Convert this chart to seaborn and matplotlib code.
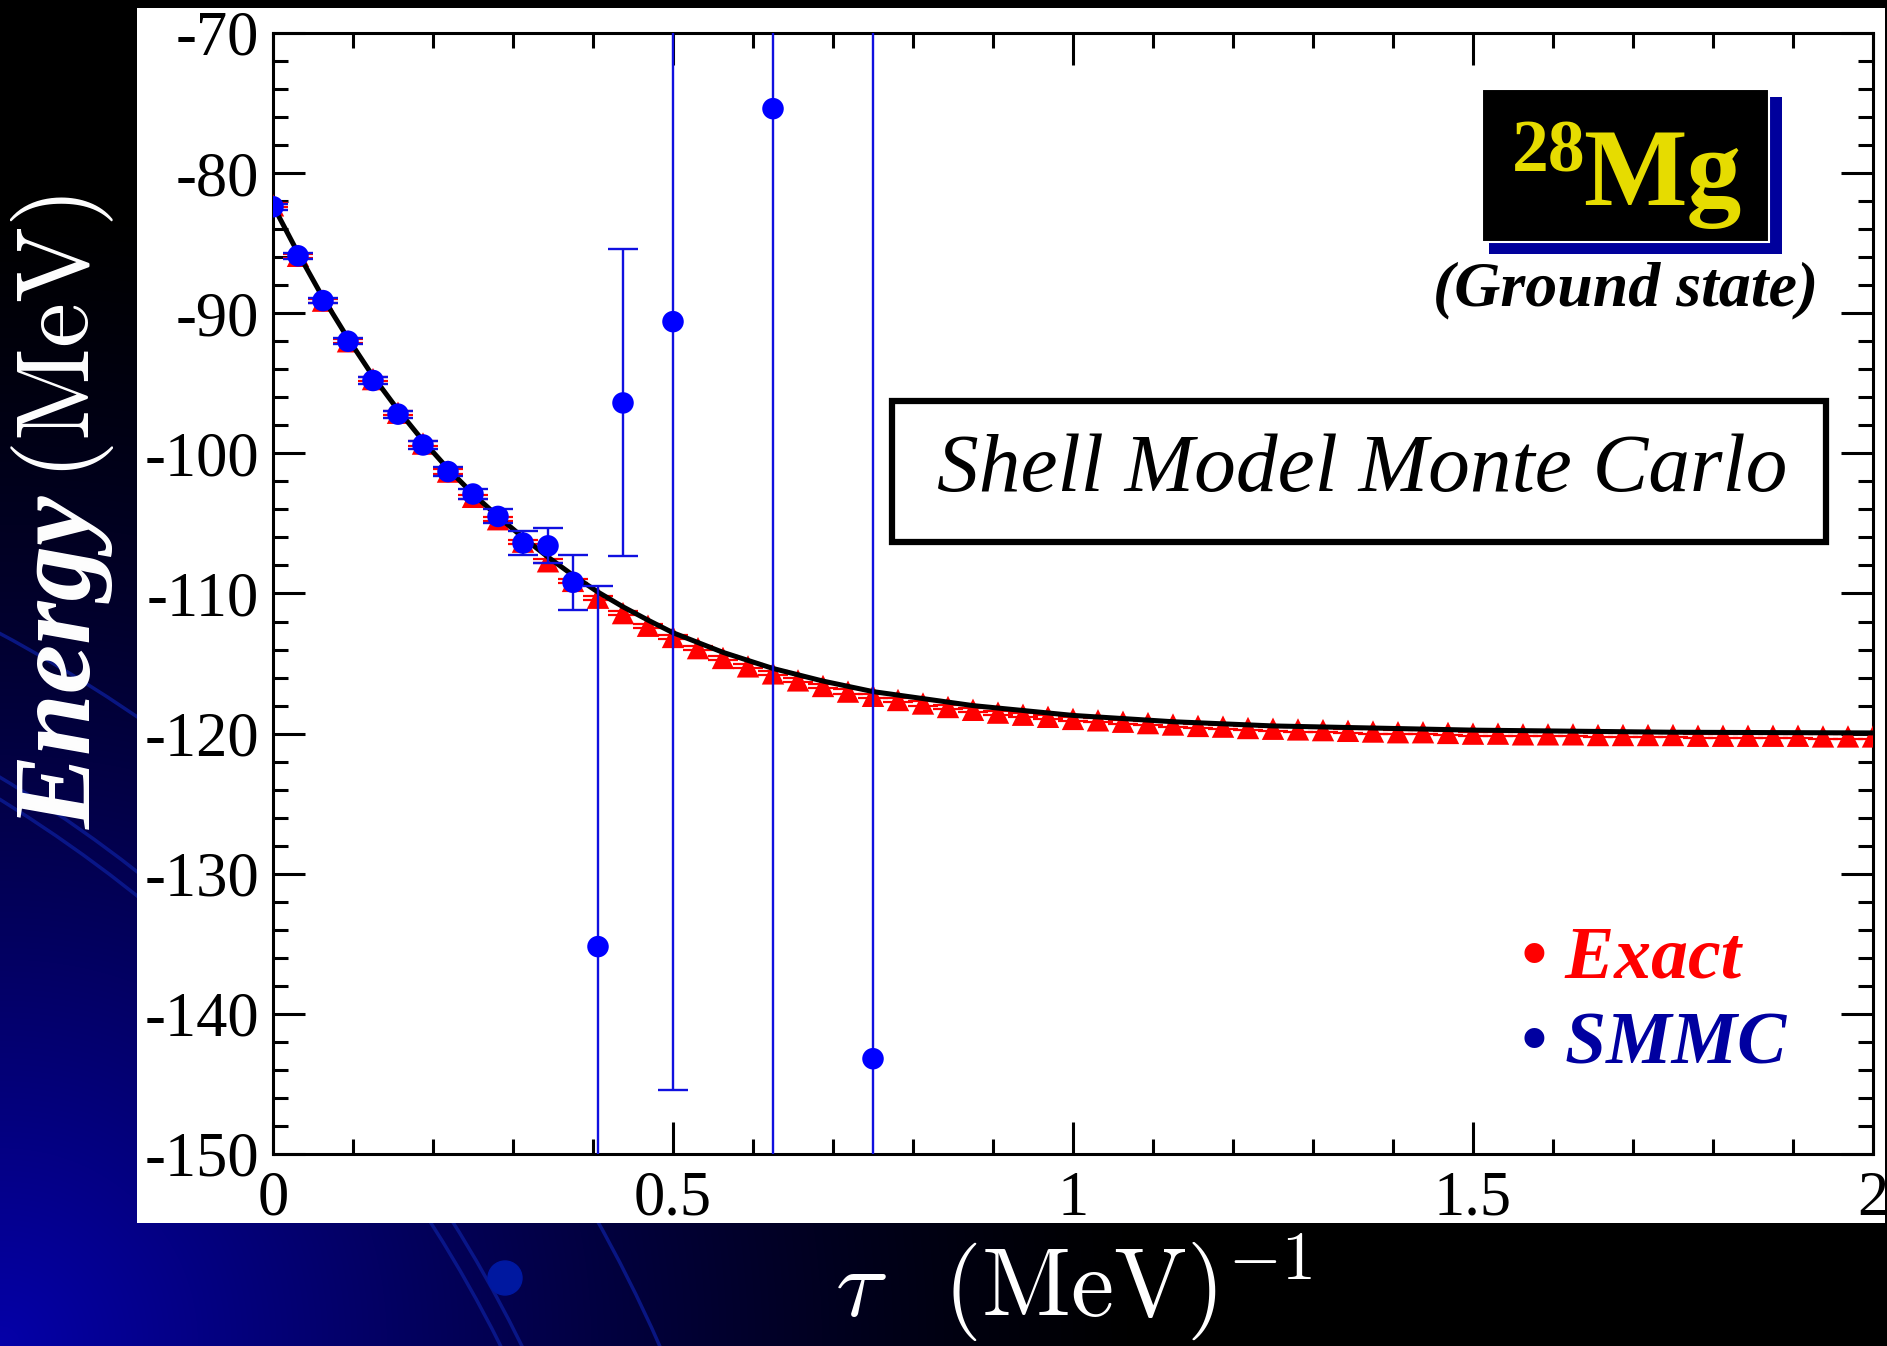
import numpy as np
import pandas as pd
import matplotlib
matplotlib.use("Agg")
import matplotlib.pyplot as plt
import seaborn as sns
from matplotlib.patches import Rectangle, Circle
from matplotlib.ticker import MultipleLocator, FuncFormatter

# --- data ---
# exact (red triangles), tau step 1/32 MeV^-1
exact_tau = [0.0, 0.03125, 0.0625, 0.09375, 0.125, 0.15625, 0.1875, 0.21875,
             0.25, 0.28125, 0.3125, 0.34375, 0.375, 0.40625, 0.4375, 0.46875,
             0.5, 0.53125, 0.5625, 0.59375, 0.625, 0.65625, 0.6875, 0.71875,
             0.75, 0.78125, 0.8125, 0.84375, 0.875, 0.90625, 0.9375, 0.96875,
             1.0, 1.03125, 1.0625, 1.09375, 1.125, 1.15625, 1.1875, 1.21875,
             1.25, 1.28125, 1.3125, 1.34375, 1.375, 1.40625, 1.4375, 1.46875,
             1.5, 1.53125, 1.5625, 1.59375, 1.625, 1.65625, 1.6875, 1.71875,
             1.75, 1.78125, 1.8125, 1.84375, 1.875, 1.90625, 1.9375, 1.96875, 2.0]
exact_energy = [-82.3, -85.9, -89.1, -92.0, -94.7, -97.1, -99.3, -101.3,
                -103.1, -104.7, -106.3, -107.7, -109.1, -110.3, -111.4, -112.3,
                -113.1, -113.9, -114.6, -115.2, -115.7, -116.2, -116.6, -117.0,
                -117.3, -117.6, -117.85, -118.1, -118.3, -118.5, -118.65, -118.8,
                -118.95, -119.05, -119.15, -119.25, -119.35, -119.45, -119.5, -119.6,
                -119.65, -119.7, -119.75, -119.8, -119.85, -119.9, -119.9, -119.95,
                -120.0, -120.0, -120.05, -120.05, -120.05, -120.1, -120.1, -120.1,
                -120.1, -120.15, -120.15, -120.15, -120.15, -120.15, -120.2, -120.2, -120.2]
exact_err = 0.15

# SMMC (blue circles)
smmc_tau = [0.0, 0.03125, 0.0625, 0.09375, 0.125, 0.15625, 0.1875, 0.21875,
            0.25, 0.28125, 0.3125, 0.34375, 0.375, 0.40625, 0.4375, 0.5, 0.625, 0.75]
smmc_energy = [-82.4, -85.9, -89.1, -92.0, -94.8, -97.2, -99.4, -101.3,
               -102.9, -104.5, -106.4, -106.6, -109.2, -135.2, -96.4, -90.6, -75.4, -143.2]
smmc_err = [0.2, 0.2, 0.2, 0.2, 0.25, 0.25, 0.3, 0.3,
            0.35, 0.5, 0.85, 1.25, 1.95, 25.7, 10.95, 54.8, 90.0, 90.0]

# smooth black curve
curve_tau = [0.0, 0.03125, 0.0625, 0.09375, 0.125, 0.15625, 0.1875, 0.21875,
             0.25, 0.28125, 0.3125, 0.34375, 0.375, 0.40625, 0.4375, 0.46875,
             0.5, 0.5625, 0.625, 0.6875, 0.75, 0.875, 1.0, 1.125, 1.25, 1.5, 1.75, 2.0]
curve_energy = [-82.3, -85.7, -88.9, -91.8, -94.5, -96.9, -99.1, -101.1,
                -102.9, -104.5, -106.0, -107.4, -108.7, -109.9, -110.95, -111.9,
                -112.8, -114.2, -115.35, -116.25, -117.0, -118.0, -118.7, -119.15,
                -119.45, -119.75, -119.9, -119.95]

x_ticks = [0, 0.5, 1, 1.5, 2]
y_ticks = [-150, -140, -130, -120, -110, -100, -90, -80, -70]

exact_df = pd.DataFrame({"tau": exact_tau, "energy": exact_energy})
smmc_df = pd.DataFrame({"tau": smmc_tau, "energy": smmc_energy, "err": smmc_err})
curve_df = pd.DataFrame({"tau": curve_tau, "energy": curve_energy})

sns.set_theme(style="ticks")
plt.rcParams['font.family'] = ['Liberation Serif', 'DejaVu Serif']
plt.rcParams['mathtext.fontset'] = 'cm'
plt.rcParams['axes.unicode_minus'] = False

W, H = 1887, 1346
fig = plt.figure(figsize=(W / 100, H / 100), dpi=100, facecolor='black')

# slide background: black with blue glow from the lower left
bg = fig.add_axes([0, 0, 1, 1], zorder=0)
bg.set_xlim(0, W)
bg.set_ylim(H, 0)
bg.axis('off')
gx, gy = np.meshgrid(np.linspace(0, W, 400), np.linspace(0, H, 300))
dist = np.hypot(gx, H - gy)
glow = np.clip(1 - dist / 1150, 0, 1) ** 1.3
img = np.zeros(gx.shape + (3,))
img[..., 2] = 0.66 * glow
img[..., 0] = 0.02 * glow
bg.imshow(img, extent=[0, W, H, 0], aspect='auto', interpolation='bilinear')
# faint globe arcs around the lower-left corner
for r in [1349, 1368, 1493]:
    bg.add_patch(Circle((-706, 1949), r, fill=False, edgecolor='#0c1c96', lw=2.5, alpha=0.8))
bg.add_patch(Circle((505, 1278), 17, color='#0018a0'))
# white plot panel
bg.add_patch(Rectangle((137, 8), 1748, 1215, facecolor='white', edgecolor='none', zorder=5))

# main axes
ax = fig.add_axes([273 / W, 1 - 1154 / H, 1600 / W, 1121 / H], zorder=2)
ax.patch.set_alpha(0)

ax.errorbar(exact_df["tau"], exact_df["energy"], yerr=exact_err, fmt='none',
            ecolor='red', elinewidth=1.6, capsize=11, capthick=1.6, zorder=2)
sns.scatterplot(data=exact_df, x="tau", y="energy", marker='^', s=260,
                color='red', edgecolor='none', ax=ax, zorder=3)
sns.lineplot(data=curve_df, x="tau", y="energy", color='black', lw=3.6,
             ax=ax, zorder=4, sort=False)
ax.errorbar(smmc_df["tau"], smmc_df["energy"], yerr=smmc_df["err"], fmt='none',
            ecolor='#1010e0', elinewidth=1.7, capsize=11, capthick=1.7, zorder=5)
sns.scatterplot(data=smmc_df, x="tau", y="energy", marker='o', s=240,
                color='#0000ff', edgecolor='none', ax=ax, zorder=6)

ax.set_xlim(0, 2)
ax.set_ylim(-150, -70)
ax.set_xticks(x_ticks)
ax.set_yticks(y_ticks)
ax.xaxis.set_minor_locator(MultipleLocator(0.1))
ax.yaxis.set_minor_locator(MultipleLocator(2))
ax.xaxis.set_major_formatter(FuncFormatter(lambda v, p: f"{v:g}"))
ax.yaxis.set_major_formatter(FuncFormatter(lambda v, p: f"{v:g}"))
ax.tick_params(which='both', direction='in', top=True, right=True,
               width=2.2, color='black', labelcolor='black')
ax.tick_params(which='major', length=23, labelsize=45)
ax.tick_params(which='minor', length=11)
ax.tick_params(axis='x', pad=12)
ax.tick_params(axis='y', pad=10)
for s in ax.spines.values():
    s.set_linewidth(2.2)
    s.set_color('black')
ax.set_xlabel('')
ax.set_ylabel('')

# overlay in pixel coordinates for labels and slide annotations
ov = fig.add_axes([0, 0, 1, 1], zorder=3)
ov.set_xlim(0, W)
ov.set_ylim(H, 0)
ov.axis('off')
ov.patch.set_alpha(0)

ov.text(64, 662, 'Energy', color='white', fontsize=80, fontweight='bold',
        fontstyle='italic', rotation=90, ha='center', va='center')
ov.text(63, 338, r'$(\mathrm{MeV})$', color='white', fontsize=73,
        rotation=90, ha='center', va='center')
ov.text(1074, 1317, r'$\tau\enspace\;(\mathrm{MeV})^{-1}$', color='white',
        fontsize=70, ha='center', va='baseline')

# 28Mg badge
ov.add_patch(Rectangle((1489, 97), 293, 157, facecolor='#00009c', edgecolor='none'))
ov.add_patch(Rectangle((1482, 89), 287, 153, facecolor='black', edgecolor='white', lw=1.5))
ov.text(1583, 205, 'Mg', color='#e6dc00', fontsize=79, fontweight='bold',
        ha='left', va='baseline')
ov.text(1512, 172, '28', color='#e6dc00', fontsize=53, fontweight='bold',
        ha='left', va='baseline')
ov.text(1626, 305, '(Ground state)', color='black', fontsize=46, fontweight='bold',
        fontstyle='italic', ha='center', va='baseline')

# method box
ov.add_patch(Rectangle((892, 401), 934, 141, facecolor='white', edgecolor='black', lw=4.5))
ov.text(1362, 471, 'Shell Model Monte Carlo', color='black', fontsize=60,
        fontstyle='italic', ha='center', va='center')

# legend text
ov.text(1521, 977, '\u2022 Exact', color='red', fontsize=53, fontweight='bold',
        fontstyle='italic', ha='left', va='baseline')
ov.text(1521, 1063, '\u2022 SMMC', color='#0000a0', fontsize=53, fontweight='bold',
        fontstyle='italic', ha='left', va='baseline')

fig.savefig('out.png', dpi=100, facecolor='black')
